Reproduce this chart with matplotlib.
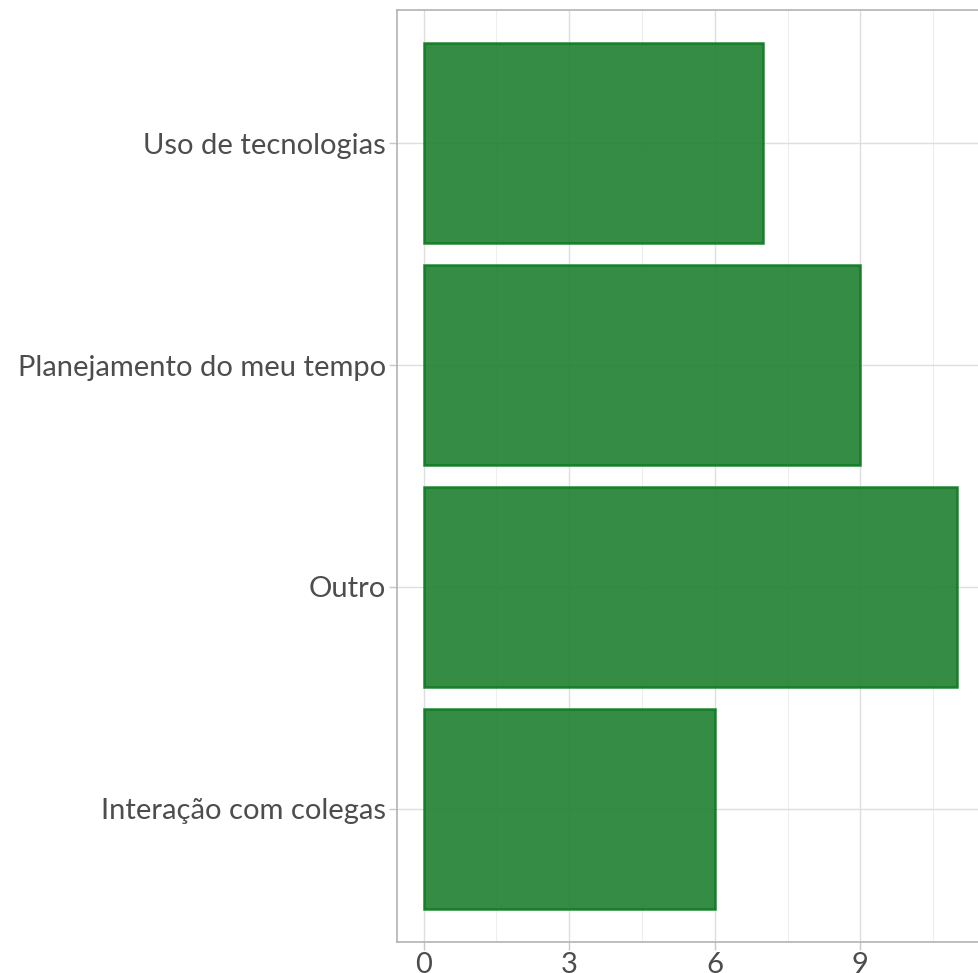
import matplotlib
matplotlib.use("Agg")
import matplotlib.pyplot as plt
from matplotlib.ticker import MultipleLocator

# data
categorias = ["Interação com colegas", "Outro", "Planejamento do meu tempo", "Uso de tecnologias"]
contagem = [6, 11, 9, 7]

plt.rcParams['font.family'] = ['Lato', 'DejaVu Sans']

fig = plt.figure(figsize=(9.79, 9.73), dpi=100)
ax = fig.add_axes([397/979, 31/973, 587/979, 932/973])

pos = list(range(len(categorias)))
ax.barh(pos, contagem, height=0.9, color='#1f8030', alpha=0.9,
        edgecolor='#0b7a1f', linewidth=1.8, zorder=3)

ax.set_yticks(pos)
ax.set_yticklabels(categorias)
ax.set_ylim(-0.6, len(categorias) - 0.4)
ax.set_xlim(-0.55, 11.55)
ax.xaxis.set_major_locator(MultipleLocator(3))
ax.xaxis.set_minor_locator(MultipleLocator(1.5))

ax.grid(which='major', color='#dedede', linewidth=1.0, zorder=0)
ax.grid(which='minor', axis='x', color='#eeeeee', linewidth=0.8, zorder=0)
ax.tick_params(which='minor', length=0)
ax.tick_params(which='major', length=6, width=1, color='#c8c8c8',
               labelsize=21, labelcolor='#4d4d4d')
ax.tick_params(axis='y', pad=2)
ax.tick_params(axis='x', pad=1)
for s in ax.spines.values():
    s.set_color('#b3b3b3')
    s.set_linewidth(1.2)

fig.savefig('out.png', dpi=100)
